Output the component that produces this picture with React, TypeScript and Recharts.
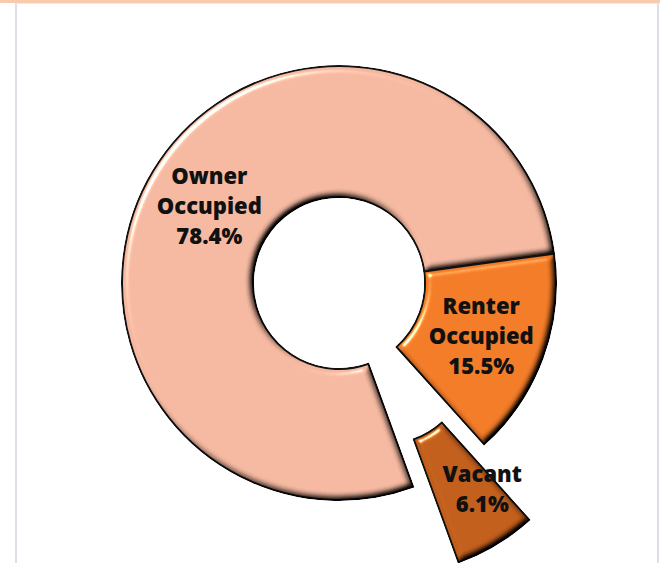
import { PieChart, Pie, Cell } from 'recharts';

const categories = ['Owner Occupied', 'Renter Occupied', 'Vacant'];
const shares = [78.4, 15.5, 6.1];
const colors = ['#F4B8A0', '#F27B28', '#C25E1C'];
// small horizontal nudges for the labels (Excel doesn't centre the exploded one exactly)
const labelNudge = [0, 0, 20];

const data = categories.map((name, i) => ({ name, value: shares[i] }));

const RADIAN = Math.PI / 180;
const START = -70; // recharts angle, slices run clockwise
const END = START - 360;
const CX = 339;
const CY = 283;
const INNER = 86;
const OUTER = 217;
const EXPLODE = 88;

// mid angle of the vacant slice, in recharts degrees
const total = shares.reduce((a, b) => a + b, 0);
const before = shares[0] + shares[1];
const vacantMid = START - ((before + shares[2] / 2) / total) * 360;
const vcx = CX + EXPLODE * Math.cos(-vacantMid * RADIAN);
const vcy = CY + EXPLODE * Math.sin(-vacantMid * RADIAN);

const makeLabel = (visible: number[]) => (props: any) => {
  const { cx, cy, midAngle, innerRadius, outerRadius, index, payload } = props;
  if (!visible.includes(index)) return null;
  const r = (innerRadius + outerRadius) / 2;
  const x = cx + r * Math.cos(-midAngle * RADIAN) + labelNudge[index];
  const y = cy + r * Math.sin(-midAngle * RADIAN);
  const lines = [...payload.name.split(' '), `${payload.value}%`];
  const step = 30;
  const top = y - ((lines.length - 1) * step) / 2;
  return (
    <text
      x={x}
      y={top}
      textAnchor="middle"
      dominantBaseline="central"
      fill="#111"
      style={{ fontFamily: '"Open Sans", sans-serif', fontWeight: 800, fontSize: 22 }}
    >
      {lines.map((l, i) => (
        <tspan key={i} x={x} y={top + i * step} dominantBaseline="central">
          {l}
        </tspan>
      ))}
    </text>
  );
};

export default function App() {
  return (
    <div style={{ position: 'absolute', left: 0, top: 0, width: 660, height: 563, background: '#fff', overflow: 'hidden' }}>
      <div style={{ position: 'absolute', left: 0, top: 0, width: 660, height: 3, background: '#F9CBAD' }} />
      <div
        style={{
          position: 'absolute',
          left: 15,
          top: 3,
          width: 640,
          height: 600,
          borderLeft: '2px solid #DCDFE6',
          borderRight: '2px solid #DCDFE6',
          borderTop: '1px solid #E4ECF2',
        }}
      />
      <svg width={0} height={0} style={{ position: 'absolute' }}>
        <defs>
          <filter id="bevel" x="-5%" y="-5%" width="110%" height="110%" colorInterpolationFilters="sRGB">
            <feGaussianBlur in="SourceAlpha" stdDeviation="3.5" result="blur" />
            <feDiffuseLighting in="blur" surfaceScale="5" diffuseConstant="1.414" lightingColor="#fff" result="diff">
              <feDistantLight azimuth={225} elevation={45} />
            </feDiffuseLighting>
            <feSpecularLighting in="blur" surfaceScale="5" specularConstant="0.9" specularExponent="60" lightingColor="#fff" result="spec">
              <feDistantLight azimuth={225} elevation={45} />
            </feSpecularLighting>
            <feComposite in="SourceGraphic" in2="diff" operator="arithmetic" k1="1" k2="0" k3="0" k4="0" result="shaded" />
            <feComposite in="spec" in2="SourceAlpha" operator="in" result="specIn" />
            <feComposite in="shaded" in2="specIn" operator="arithmetic" k1="0" k2="1" k3="1" k4="0" result="lit" />
            <feComposite in="lit" in2="SourceAlpha" operator="in" />
          </filter>
        </defs>
      </svg>
      <div style={{ position: 'absolute', left: 0, top: 0 }}>
        <PieChart width={660} height={563} margin={{ top: 0, right: 0, bottom: 0, left: 0 }}>
          <Pie
            data={data}
            dataKey="value"
            nameKey="name"
            cx={CX}
            cy={CY}
            innerRadius={INNER}
            outerRadius={OUTER}
            startAngle={START}
            endAngle={END}
            paddingAngle={0}
            stroke="#111"
            strokeWidth={2}
            label={makeLabel([0, 1])}
            labelLine={false}
            isAnimationActive={false}
          >
            {data.map((d, i) =>
              i === 2 ? (
                <Cell key={d.name} fill="none" stroke="none" />
              ) : (
                <Cell key={d.name} fill={colors[i]} filter="url(#bevel)" />
              )
            )}
          </Pie>
          <Pie
            data={data}
            dataKey="value"
            nameKey="name"
            cx={vcx}
            cy={vcy}
            innerRadius={INNER}
            outerRadius={OUTER}
            startAngle={START}
            endAngle={END}
            stroke="#111"
            strokeWidth={2}
            label={makeLabel([2])}
            labelLine={false}
            isAnimationActive={false}
          >
            {data.map((d, i) =>
              i === 2 ? (
                <Cell key={d.name} fill={colors[i]} filter="url(#bevel)" />
              ) : (
                <Cell key={d.name} fill="none" stroke="none" />
              )
            )}
          </Pie>
        </PieChart>
      </div>
    </div>
  );
}
